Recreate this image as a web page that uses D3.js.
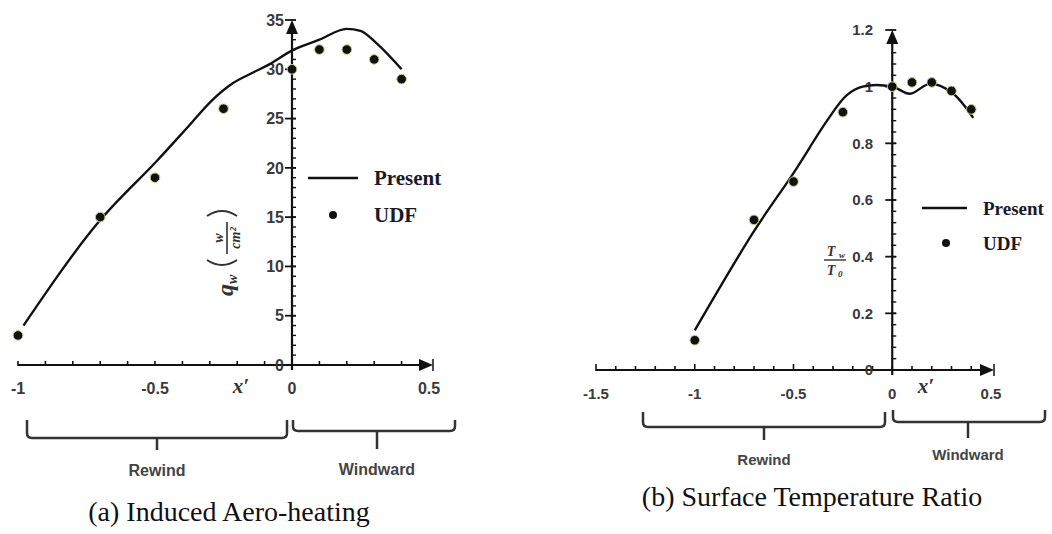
<!DOCTYPE html>
<html>
<head>
<meta charset="utf-8">
<script src="https://cdn.jsdelivr.net/npm/d3@7"></script>
<style>
  body { margin: 0; background: #fff; }
  svg { display: block; }
  .tick-label { font-family: 'Liberation Sans', Arial, sans-serif; font-weight: bold; fill: #3a3a3a; }
  .legend-text { font-family: 'Liberation Serif', 'Times New Roman', serif; font-weight: bold; fill: #1a1a2a; }
  .caption { font-family: 'Liberation Serif', 'Times New Roman', serif; fill: #111; }
  .side-label { font-family: 'Liberation Sans', Arial, sans-serif; font-weight: bold; fill: #444; }
  .math { font-family: 'Liberation Serif', 'Times New Roman', serif; font-style: italic; font-weight: bold; fill: #333; }
</style>
</head>
<body>
<div id="chart"></div>
<script>
// (a) induced aero-heating, q_w in W/cm^2
const presentAx = [-0.98, -0.7, -0.49, -0.38, -0.29, -0.215, -0.14, -0.09, 0, 0.1, 0.2, 0.25, 0.31, 0.4];
const presentAq = [4, 14.7, 20.8, 24.15, 26.9, 28.6, 29.7, 30.4, 31.9, 33.0, 34.1, 33.9, 32.6, 30];
const udfAx = [-1, -0.7, -0.5, -0.25, 0, 0.1, 0.2, 0.3, 0.4];
const udfAq = [3, 15, 19, 26, 30, 32, 32, 31, 29];
const xTicksA = [-1, -0.5, 0, 0.5];
const xTickLabelsA = ['-1', '-0.5', '0', '0.5'];
const yTicksA = [0, 5, 10, 15, 20, 25, 30, 35];

// (b) surface temperature ratio Tw/T0
const presentBx = [-1, -0.7, -0.5, -0.33, -0.23, -0.15, 0, 0.09, 0.19, 0.3, 0.41];
const presentBt = [0.14, 0.49, 0.695, 0.88, 0.97, 1.0, 1.0, 0.975, 1.01, 0.98, 0.89];
const udfBx = [-1, -0.7, -0.5, -0.25, 0, 0.1, 0.2, 0.3, 0.4];
const udfBt = [0.105, 0.53, 0.665, 0.91, 1.0, 1.015, 1.015, 0.985, 0.92];
const xTicksB = [-1.5, -1, -0.5, 0, 0.5];
const xTickLabelsB = ['-1.5', '-1', '-0.5', '0', '0.5'];
const yTicksB = [0, 0.2, 0.4, 0.6, 0.8, 1, 1.2];
const yTickLabelsB = ['0', '0.2', '0.4', '0.6', '0.8', '1', '1.2'];

const W = 1052, H = 534;
const svg = d3.select('#chart').append('svg')
  .attr('width', W).attr('height', H)
  .attr('viewBox', [0, 0, W, H]);

function drawBrace(g, x0, x1, mid, top, bottom, stemEnd) {
  const r = 5;
  g.append('path')
    .attr('d', `M${x0},${top} L${x0},${bottom - r} Q${x0},${bottom} ${x0 + r},${bottom} L${x1 - r},${bottom} Q${x1},${bottom} ${x1},${bottom - r} L${x1},${top}` +
      ` M${mid},${bottom} L${mid},${stemEnd}`)
    .attr('fill', 'none')
    .attr('stroke', '#333')
    .attr('stroke-width', 2.5)
    .attr('stroke-linejoin', 'round');
}

function drawPanel(cfg) {
  const g = svg.append('g').attr('class', cfg.cls);
  const x = cfg.x, y = cfg.y;
  const x0 = x(0), y0 = y(0);

  // x axis line + arrow
  g.append('line')
    .attr('x1', cfg.xAxisStart).attr('x2', cfg.xArrowTip - 8)
    .attr('y1', y0).attr('y2', y0)
    .attr('stroke', '#111').attr('stroke-width', 2.2);
  g.append('path')
    .attr('d', `M${cfg.xArrowTip - 14},${y0 - 6} L${cfg.xArrowTip},${y0} L${cfg.xArrowTip - 14},${y0 + 6} Z`)
    .attr('fill', '#111');
  g.append('line')
    .attr('x1', cfg.xArrowTip).attr('x2', cfg.xArrowTip)
    .attr('y1', y0 - 6).attr('y2', y0 + 6)
    .attr('stroke', '#111').attr('stroke-width', 1.5);

  // x ticks (upward)
  g.selectAll('.xminor')
    .data(cfg.xMinor)
    .join('line')
    .attr('x1', d => x(d)).attr('x2', d => x(d))
    .attr('y1', d => y0 - (cfg.xMajor.includes(d) ? 6 : 4)).attr('y2', y0 + 1)
    .attr('stroke', '#111').attr('stroke-width', 1.6);

  // x tick labels
  g.selectAll('.xlab')
    .data(cfg.xTicks)
    .join('text')
    .attr('class', 'tick-label')
    .attr('x', d => x(d))
    .attr('y', cfg.xLabelY)
    .attr('text-anchor', 'middle')
    .attr('font-size', cfg.tickFont)
    .text((d, i) => cfg.xTickLabels[i]);

  // y axis line + arrow
  const yTop = y(cfg.yMax);
  g.append('line')
    .attr('x1', x0).attr('x2', x0)
    .attr('y1', y0 + 5).attr('y2', yTop + 10)
    .attr('stroke', '#111').attr('stroke-width', 2.2);
  g.append('path')
    .attr('d', `M${x0 - 6},${yTop + 14} L${x0},${yTop} L${x0 + 6},${yTop + 14} Z`)
    .attr('fill', '#111');

  // y minor ticks
  g.selectAll('.yminor')
    .data(cfg.yMinor)
    .join('line')
    .attr('x1', x0 - 1).attr('x2', x0 + 4)
    .attr('y1', d => y(d)).attr('y2', d => y(d))
    .attr('stroke', '#111').attr('stroke-width', 1.4);

  // y major ticks
  g.selectAll('.ymajor')
    .data(cfg.yTicks)
    .join('line')
    .attr('x1', x0 - 7).attr('x2', x0 + 4)
    .attr('y1', d => y(d)).attr('y2', d => y(d))
    .attr('stroke', '#111').attr('stroke-width', 1.8);

  g.selectAll('.ylab')
    .data(cfg.yTicks)
    .join('text')
    .attr('class', 'tick-label')
    .attr('x', cfg.yLabelX)
    .attr('y', d => y(d))
    .attr('dy', '0.36em')
    .attr('text-anchor', 'end')
    .attr('font-size', cfg.tickFont)
    .text((d, i) => cfg.yTickLabels[i]);

  // Present curve
  const line = d3.line()
    .x(d => x(d[0]))
    .y(d => y(d[1]))
    .curve(cfg.curve);
  g.append('path')
    .datum(d3.zip(cfg.presentX, cfg.presentY))
    .attr('d', line)
    .attr('fill', 'none')
    .attr('stroke', '#111')
    .attr('stroke-width', 2.4);

  // UDF points
  g.selectAll('.udf')
    .data(d3.zip(cfg.udfX, cfg.udfY))
    .join('circle')
    .attr('cx', d => x(d[0]))
    .attr('cy', d => y(d[1]))
    .attr('r', 4.8)
    .attr('fill', '#111')
    .attr('stroke', '#c3cf86')
    .attr('stroke-width', 1);

  // legend
  const lg = cfg.legend;
  g.append('line')
    .attr('x1', lg.x1).attr('x2', lg.x2)
    .attr('y1', lg.y).attr('y2', lg.y)
    .attr('stroke', '#111').attr('stroke-width', 2.6);
  g.append('text')
    .attr('class', 'legend-text')
    .attr('x', lg.tx).attr('y', lg.y + 7)
    .attr('font-size', lg.font)
    .text('Present');
  g.append('circle')
    .attr('cx', lg.dotX).attr('cy', lg.y + lg.gap)
    .attr('r', 4).attr('fill', '#111');
  g.append('text')
    .attr('class', 'legend-text')
    .attr('x', lg.tx).attr('y', lg.y + lg.gap + 7)
    .attr('font-size', lg.font)
    .text('UDF');

  // x' label
  g.append('text')
    .attr('class', 'math')
    .attr('x', cfg.xPrime[0]).attr('y', cfg.xPrime[1])
    .attr('font-size', 21)
    .attr('text-anchor', 'middle')
    .text('x\u2032');

  // braces
  cfg.braces.forEach(b => {
    drawBrace(g, b.x0, b.x1, b.mid, b.top, b.bottom, b.stem);
    g.append('text')
      .attr('class', 'side-label')
      .attr('x', b.mid).attr('y', b.ty)
      .attr('text-anchor', 'middle')
      .attr('font-size', cfg.sideFont)
      .text(b.label);
  });

  // caption
  g.append('text')
    .attr('class', 'caption')
    .attr('x', cfg.caption.x).attr('y', cfg.caption.y)
    .attr('text-anchor', 'middle')
    .attr('font-size', 28)
    .text(cfg.caption.text);

  return g;
}

const xA = d3.scaleLinear().domain([-1, 0.5]).range([18, 429]);
const yA = d3.scaleLinear().domain([0, 35]).range([365, 20]);
const gA = drawPanel({
  cls: 'panel-a', x: xA, y: yA, yMax: 35,
  xAxisStart: 18, xArrowTip: 433,
  xMinor: d3.range(-10, 5).map(i => i / 10),
  xMajor: [],
  xTicks: xTicksA, xTickLabels: xTickLabelsA, xLabelY: 394,
  yTicks: yTicksA, yTickLabels: yTicksA.map(String), yLabelX: 284,
  yMinor: d3.range(0, 35).map(i => i),
  tickFont: 16,
  curve: d3.curveMonotoneX,
  presentX: presentAx, presentY: presentAq,
  udfX: udfAx, udfY: udfAq,
  legend: { x1: 308, x2: 358, y: 178, tx: 374, dotX: 333, gap: 37, font: 21 },
  xPrime: [241, 393],
  sideFont: 16,
  braces: [
    { x0: 27, x1: 287, mid: 157, top: 420, bottom: 438, stem: 450, ty: 476, label: 'Rewind' },
    { x0: 293, x1: 455, mid: 377, top: 420, bottom: 431, stem: 449, ty: 475, label: 'Windward' }
  ],
  caption: { x: 229, y: 521, text: '(a) Induced Aero-heating' }
});

// q_w (w / cm^2) rotated y label
const qLab = gA.append('g').attr('transform', 'translate(227,252) rotate(-90)');
qLab.append('text').attr('class', 'math').attr('x', -44).attr('y', 6).attr('font-size', 24).attr('font-weight', 'normal').text('q');
qLab.append('text').attr('class', 'math').attr('x', -32).attr('y', 10).attr('font-size', 14).text('w');
qLab.append('path').attr('d', 'M-8,-20 Q-18,-5 -8,10').attr('fill', 'none').attr('stroke', '#333').attr('stroke-width', 2);
qLab.append('path').attr('d', 'M36,-20 Q46,-5 36,10').attr('fill', 'none').attr('stroke', '#333').attr('stroke-width', 2);
qLab.append('text').attr('class', 'math').attr('x', 14).attr('y', -4).attr('font-size', 14).attr('text-anchor', 'middle').text('w');
qLab.append('line').attr('x1', -2).attr('x2', 30).attr('y1', 0).attr('y2', 0).attr('stroke', '#333').attr('stroke-width', 1.6);
qLab.append('text').attr('class', 'math').attr('x', 14).attr('y', 13).attr('font-size', 14).attr('text-anchor', 'middle').text('cm\u00b2');

const xB = d3.scaleLinear().domain([-1.5, 0.5]).range([596, 991]);
const yB = d3.scaleLinear().domain([0, 1.2]).range([370, 30]);
const gB = drawPanel({
  cls: 'panel-b', x: xB, y: yB, yMax: 1.2,
  xAxisStart: 596, xArrowTip: 994,
  xMinor: d3.range(-15, 5).map(i => i / 10),
  xMajor: [-1.5, -1, -0.5],
  xTicks: xTicksB, xTickLabels: xTickLabelsB, xLabelY: 399,
  yTicks: yTicksB, yTickLabels: yTickLabelsB, yLabelX: 873,
  yMinor: d3.range(0, 30).map(i => i * 0.04),
  tickFont: 15,
  curve: d3.curveCatmullRom.alpha(0.5),
  presentX: presentBx, presentY: presentBt,
  udfX: udfBx, udfY: udfBt,
  legend: { x1: 922, x2: 967, y: 208, tx: 983, dotX: 946, gap: 35, font: 19 },
  xPrime: [926, 393],
  sideFont: 15,
  braces: [
    { x0: 643, x1: 885, mid: 764, top: 412, bottom: 427, stem: 440, ty: 465, label: 'Rewind' },
    { x0: 893, x1: 1045, mid: 968, top: 410, bottom: 422, stem: 438, ty: 460, label: 'Windward' }
  ],
  caption: { x: 812, y: 506, text: '(b) Surface Temperature Ratio' }
});

// Tw / T0 y label
const tLab = gB.append('g').attr('transform', 'translate(833,260)');
tLab.append('text').attr('class', 'math').attr('x', -2).attr('y', -4).attr('font-size', 14).attr('text-anchor', 'middle').text('T');
tLab.append('text').attr('class', 'math').attr('x', 6).attr('y', -2).attr('font-size', 9).text('w');
tLab.append('line').attr('x1', -9).attr('x2', 13).attr('y1', 0).attr('y2', 0).attr('stroke', '#333').attr('stroke-width', 1.4);
tLab.append('text').attr('class', 'math').attr('x', -2).attr('y', 15).attr('font-size', 14).attr('text-anchor', 'middle').text('T');
tLab.append('text').attr('class', 'math').attr('x', 5).attr('y', 17).attr('font-size', 9).text('0');
</script>
</body>
</html>
